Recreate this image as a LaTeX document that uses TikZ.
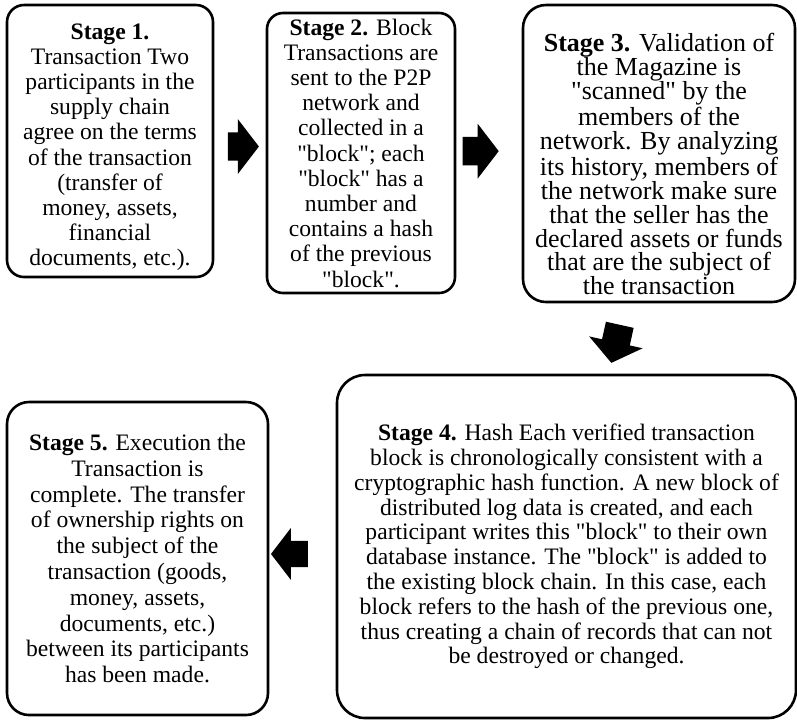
\documentclass[tikz,border=0pt]{standalone}
\usepackage{fontspec}
\setmainfont{Liberation Serif}[Ligatures=TeXOff]
\usepackage{tikz}
\usetikzlibrary{shapes.arrows, calc}

\begin{document}
\begin{tikzpicture}[x=0.5pt, y=-0.5pt,
  stagebox/.style={draw, line width=1.3pt, align=center, inner sep=2pt,
    font=\fontsize{11.8}{12.6}\selectfont},
  flowarrow/.style={single arrow, fill=black, draw=none,
    inner xsep=0pt, inner ysep=6.9pt,
    single arrow head extend=6.6pt,
    single arrow tip angle=105}]
\useasboundingbox (0,0) rectangle (797,720);
% Stage boxes
\node[stagebox, rounded corners=8.5pt, minimum width=103pt, minimum height=136pt] (s1) at (110,141)
  {\rule{0pt}{14pt}\textbf{Stage 1.}\\Transaction Two\\participants in the\\supply chain\\agree on the terms\\of the transaction\\(transfer of\\money, assets,\\financial\\documents, etc.).};
\node[stagebox, rounded corners=8pt, minimum width=94pt, minimum height=140pt] (s2) at (361,153)
  {\textbf{Stage 2.} Block\\Transactions are\\sent to the P2P\\network and\\collected in a\\"block"; each\\"block" has a\\number and\\contains a hash\\of the previous\\"block".};
\node[stagebox, rounded corners=11.5pt, minimum width=136pt, minimum height=148.5pt,
  font=\fontsize{13}{11.95}\selectfont] (s3) at (659,153.5)
  {\rule{0pt}{19.9pt}\textbf{Stage 3.} Validation of\\the Magazine is\\"scanned" by the\\members of the\\network. By analyzing\\its history, members of\\the network make sure\\that the seller has the\\declared assets or funds\\that are the subject of\\the transaction};
\node[stagebox, rounded corners=14pt, minimum width=229.5pt, minimum height=171.5pt,
  font=\fontsize{11.8}{12.4}\selectfont] (s4) at (566.5,546.5)
  {\textbf{Stage 4.} Hash Each verified transaction\\block is chronologically consistent with a\\cryptographic hash function. A new block of\\distributed log data is created, and each\\participant writes this "block" to their own\\database instance. The "block" is added to\\the existing block chain. In this case, each\\block refers to the hash of the previous one,\\thus creating a chain of records that can not\\be destroyed or changed.};
\node[stagebox, rounded corners=11pt, minimum width=130.5pt, minimum height=156.5pt,
  font=\fontsize{11.8}{12.9}\selectfont] (s5) at (137.5,558.5)
  {\textbf{Stage 5.} Execution the\\Transaction is\\complete. The transfer\\of ownership rights on\\the subject of the\\transaction (goods,\\money, assets,\\documents, etc.)\\between its participants\\has been made.};

% Arrows between stages
\node[flowarrow, minimum height=15.5pt] (a12) at ($(s1.east)!0.46!(s2.west)$) {};
\node[flowarrow, minimum height=18pt] (a23) at ($(s2.east)!0.29!(s3.west)+(0,-2)$) {};
\node[flowarrow, minimum height=19.5pt, rotate=-102.5] (a34) at ($(s3.south)!0.5!(s4.north)+(4,0)$) {};
\node[flowarrow, minimum height=18.5pt, inner ysep=6.4pt, single arrow head extend=6.3pt, rotate=180] (a45) at ($(s4.west)!0.62!(s5.east)$) {};
\end{tikzpicture}
\end{document}
